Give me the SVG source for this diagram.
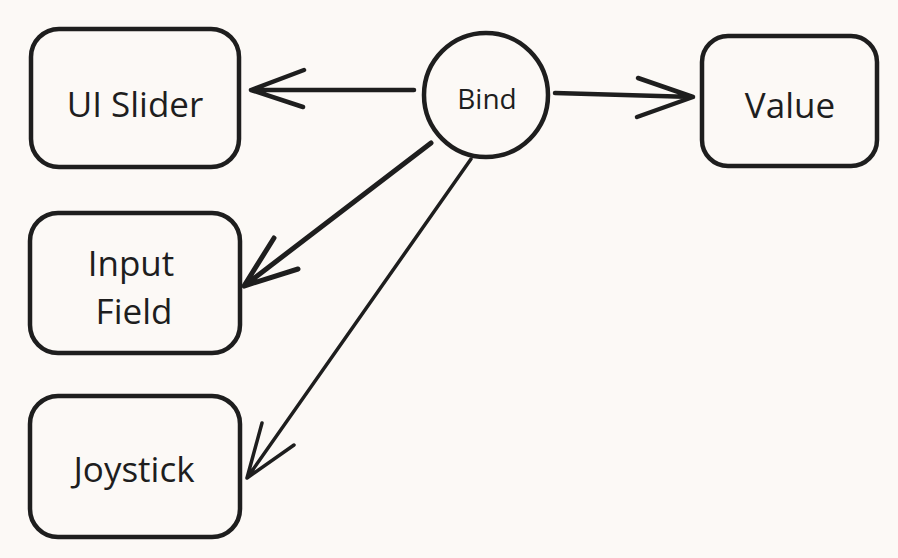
<svg xmlns="http://www.w3.org/2000/svg" width="898" height="558" viewBox="0 0 898 558">
<style>
.box{fill:none;stroke:#1e1e1e;stroke-width:4.5;stroke-linecap:round;stroke-linejoin:round}
.con{fill:none;stroke:#1e1e1e;stroke-linecap:round;stroke-linejoin:round}
.lbl{font-family:"Segoe UI","Open Sans","Noto Sans",sans-serif;fill:#1e1e1e;text-anchor:middle}
</style>
<rect x="0" y="0" width="898" height="558" fill="#fcf9f6"/>
<g id="ui-slider">
<rect class="box" x="31" y="29" width="208" height="138" rx="28"/>
<text class="lbl" x="135" y="117" font-size="35">UI Slider</text>
</g>
<g id="input-field">
<rect class="box" x="30" y="213" width="210" height="140" rx="28"/>
<text class="lbl" x="131" y="276" font-size="35">Input</text>
<text class="lbl" x="134" y="324" font-size="35">Field</text>
</g>
<g id="joystick">
<rect class="box" x="30" y="396" width="210" height="141" rx="28"/>
<text class="lbl" x="134" y="482" font-size="35">Joystick</text>
</g>
<g id="value">
<rect class="box" x="702" y="36" width="175" height="130" rx="26"/>
<text class="lbl" x="790" y="118" font-size="35">Value</text>
</g>
<g id="bind">
<circle class="box" cx="486" cy="95" r="62"/>
<text class="lbl" x="487" y="109" font-size="28">Bind</text>
</g>
<g id="connectors">
<path class="con" stroke-width="4.5" d="M414 90 L251 90 M304 70 L251 90 L303 107"/>
<path class="con" stroke-width="4.5" d="M555 93 L693 97 M638 78 L693 97 L637 117"/>
<path class="con" stroke-width="5" d="M431 143 L244 286 M274 238 L244 286 L298 269"/>
<path class="con" stroke-width="3.5" d="M471 159 L247 478 M262 423 L247 478 L294 445"/>
</g>
</svg>
